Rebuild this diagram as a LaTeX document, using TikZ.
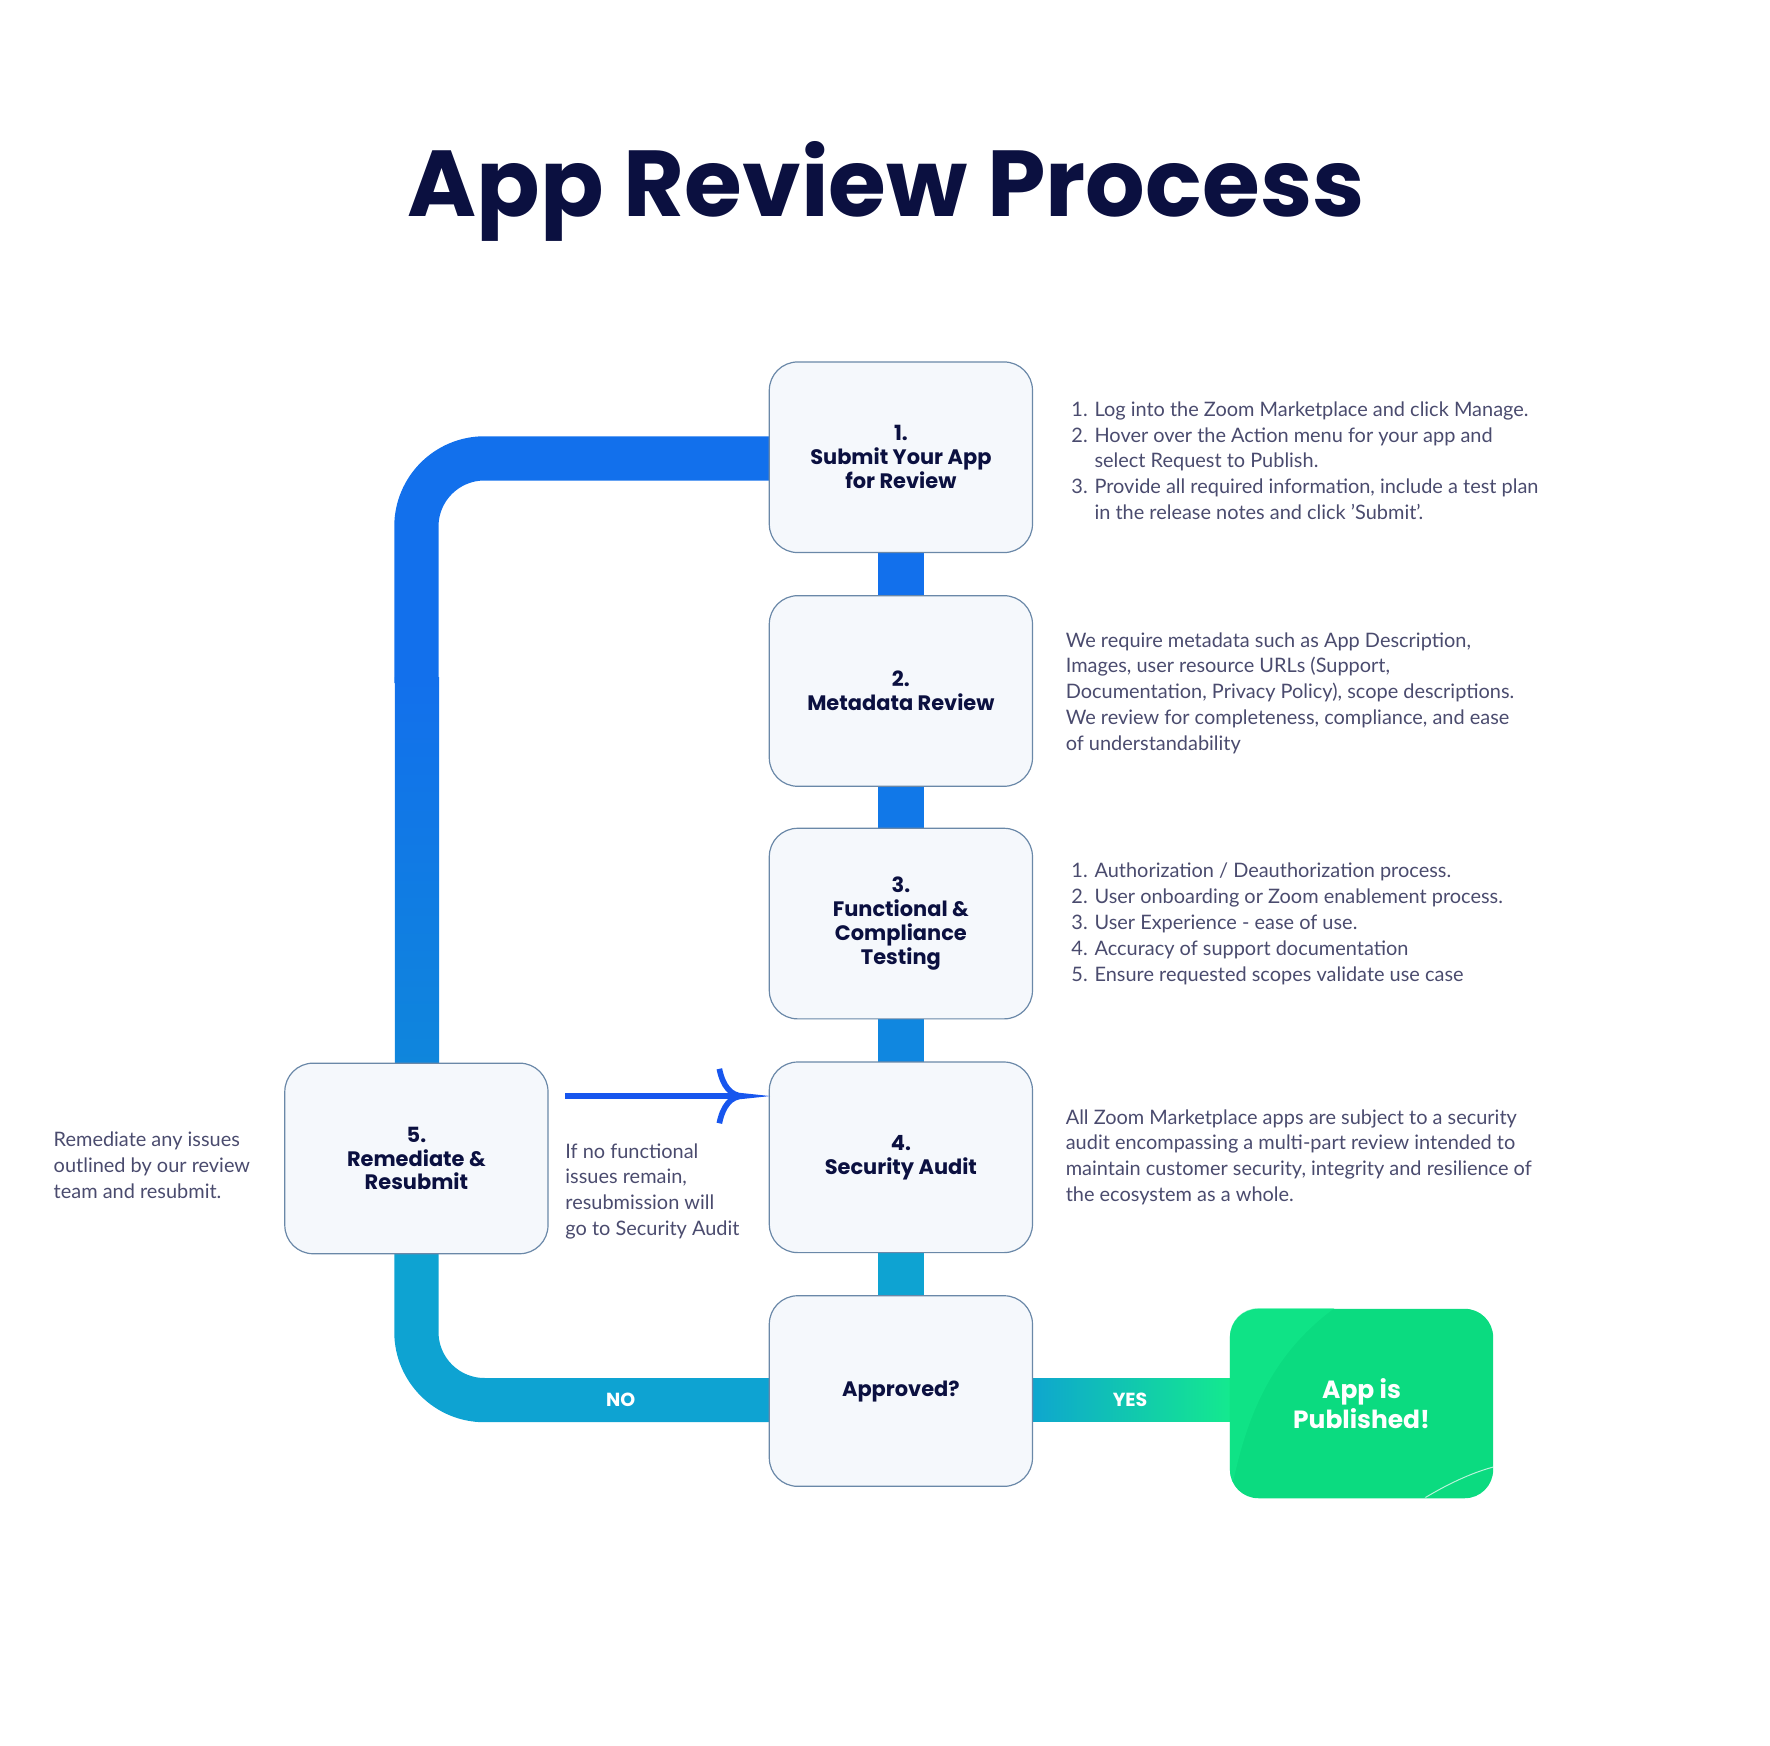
\documentclass[tikz,border=0pt]{standalone}
\usepackage{fontspec}
\setmainfont{Lato}
\newfontfamily\pop{Poppins}
\definecolor{navy}{HTML}{0B1040}
\definecolor{body}{HTML}{4A4B6E}
\definecolor{bA}{HTML}{1270EC}
\definecolor{bB}{HTML}{0F86DC}
\definecolor{teal}{HTML}{0EA3D2}
\definecolor{grn}{HTML}{0BDB80}
\definecolor{grnL}{HTML}{14EC8C}
\definecolor{edge}{HTML}{6A88A8}
\definecolor{boxfill}{HTML}{F5F8FC}
\definecolor{arr}{HTML}{1756EE}
\begin{document}
\begin{tikzpicture}[x=0.02cm,y=-0.02cm,
  box/.style={draw=edge,line width=0.6pt,fill=boxfill,rounded corners=0.5cm,minimum width=4.64cm,minimum height=3.36cm,align=center,font=\pop\bfseries\fontsize{10.5}{12}\selectfont,text=navy},
  txt/.style={anchor=west,align=left,font=\fontsize{10}{13}\selectfont,text=body,inner sep=0pt},
  lbl/.style={font=\pop\bfseries\fontsize{9.5}{11}\selectfont,text=white}]
\useasboundingbox (4,3) rectangle (1564,1541);
\node[font=\pop\bfseries\fontsize{47}{56}\selectfont,text=navy] (title) at (785,172) {App Review Process};
% loop connectors
\draw[bA,line width=0.78cm,rounded corners=1.2cm] (700,407) -- (371,407) -- (371,605);
\shade[top color=bA,bottom color=bB] (352,600) rectangle (391,942);
\draw[teal,line width=0.78cm,rounded corners=1.2cm] (371,1100) -- (371,1237) -- (700,1237);
\shade[left color=teal,right color=grnL] (905,1218) rectangle (1095,1256);
% vertical stubs
\fill[bA] (778,485) rectangle (818,533);
\fill[bA!85!teal] (778,690) rectangle (818,738);
\fill[bA!55!teal] (778,896) rectangle (818,944);
\fill[teal] (778,1102) rectangle (818,1150);
% boxes
\node[box] (s1) at (798,406) {1.\\Submit Your App\\for Review};
\node[box] (s2) at (798,612) {2.\\Metadata Review};
\node[box] (s3) at (798,817) {3.\\Functional \&\\Compliance\\Testing};
\node[box] (s4) at (798,1023) {4.\\Security Audit};
\node[box] (ap) at (798,1229) {Approved?};
\node[box] (s5) at (371,1024) {5.\\Remediate \&\\Resubmit};
\node[rounded corners=0.5cm,fill=grn,minimum width=4.64cm,minimum height=3.34cm,align=center,text=white,font=\pop\bfseries\fontsize{12.5}{15}\selectfont] (pub) at (1204,1240) {App is\\Published!};
\begin{scope}
\clip[rounded corners=0.5cm] (1088,1156) rectangle (1320,1323);
\fill[grnL,opacity=0.5] (1088,1156) -- (1180,1156) .. controls (1120,1200) and (1100,1260) .. (1088,1323) -- cycle;
\draw[white,opacity=0.7,line width=0.5pt] (1260,1323) .. controls (1285,1308) and (1305,1300) .. (1320,1296);
\end{scope}
\node[lbl] (no) at (551,1237) {NO};
\node[lbl] (yes) at (1000,1237) {YES};
% arrow
\coordinate (a0) at (502,969);
\coordinate (a1) at (659,969);
\draw[arr,line width=0.12cm] (a0) -- (a1);
\draw[arr,line width=0.1cm] (638,945) .. controls (641,960) and (648,969) .. (a1) .. controls (648,969) and (641,978) .. (638,993);
% texts
\node[txt] (t1) at (948,409) {1. Log into the Zoom Marketplace and click Manage.\\2. Hover over the Action menu for your app and\\\phantom{2. }select Request to Publish.\\3. Provide all required information, include a test plan\\\phantom{3. }in the release notes and click 'Submit'.};
\node[txt] (t2) at (943,614) {We require metadata such as App Description,\\Images, user resource URLs (Support,\\Documentation, Privacy Policy), scope descriptions.\\We review for completeness, compliance, and ease\\of understandability};
\node[txt] (t3) at (948,817) {1. Authorization / Deauthorization process.\\2. User onboarding or Zoom enablement process.\\3. User Experience - ease of use.\\4. Accuracy of support documentation\\5. Ensure requested scopes validate use case};
\node[txt] (t4) at (943,1023) {All Zoom Marketplace apps are subject to a security\\audit encompassing a multi-part review intended to\\maintain customer security, integrity and resilience of\\the ecosystem as a whole.};
\node[txt] (t5) at (51,1030) {Remediate any issues\\outlined by our review\\team and resubmit.};
\node[txt] (t6) at (502,1053) {If no functional\\issues remain,\\resubmission will\\go to Security Audit};
\end{tikzpicture}
\end{document}
